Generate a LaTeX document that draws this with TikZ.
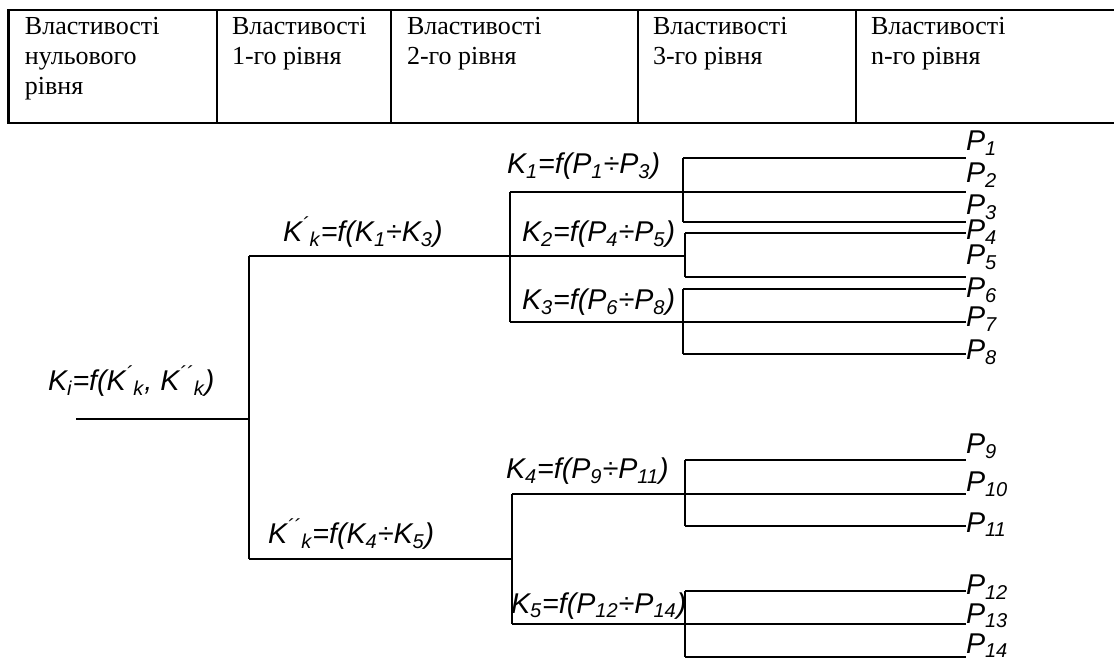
\documentclass[tikz,border=0pt]{standalone}
\usepackage{fontspec}
\setmainfont{Liberation Serif}
\newfontfamily\arialfont{Liberation Sans}
\usetikzlibrary{positioning}

\newcommand{\sub}[1]{\textsubscript{#1}}
\newcommand{\pr}{\textsuperscript{´}}
\newcommand{\ppr}{\textsuperscript{´´}}

\begin{document}
\begin{tikzpicture}[x=0.5pt,y=-0.5pt,
  every node/.style={inner sep=0pt, outer sep=0pt},
  hdr/.style={anchor=north west, align=left, font=\fontsize{13}{15}\selectfont},
  lbl/.style={anchor=base west, font=\arialfont\itshape\fontsize{14.3}{17}\selectfont},
  tbl/.style={line width=1.2pt},
  br/.style={line width=1pt}]

\useasboundingbox (0,0) rectangle (1114,662);

% table of levels
\draw[tbl] (1114,10) -- (8.6,10) -- (8.6,123) -- (1114,123);
\foreach \x in {217,391,638,856}
  \draw[tbl] (\x,10) -- (\x,123);
\node[hdr] (h0) at (25,17)  {Властивості\\нульового\\рівня};
\node[hdr] (h1) at (232,17) {Властивості\\1-го рівня};
\node[hdr] (h2) at (407,17) {Властивості\\2-го рівня};
\node[hdr] (h3) at (653,17) {Властивості\\3-го рівня};
\node[hdr] (h4) at (871,17) {Властивості\\n-го рівня};

% forks
\coordinate (root) at (76,419);
\coordinate (j0) at (249,419);
\coordinate (ja) at (510,256);
\coordinate (jb) at (512,559);
\coordinate (k1) at (683,192);
\coordinate (k2) at (685,256);
\coordinate (k3) at (683,322);
\coordinate (k4) at (685,494);
\coordinate (k5) at (685,624);

% ends of the property lines
\foreach \i/\y in {1/158,2/192,3/222,4/233,5/277,6/289,7/322,
                   8/354,9/460,10/494,11/526,12/591,13/624,14/657}
  \coordinate (e\i) at (966,\y);

\draw[br] (root) -- (j0);
\draw[br] (j0 |- ja) -- (j0 |- jb);
\draw[br] (j0 |- ja) -- (k2);
\draw[br] (j0 |- jb) -- (jb);
\draw[br] (ja |- k1) -- (ja |- k3);
\draw[br] (jb |- k4) -- (jb |- k5);

\draw[br] (k1 |- e1) -- (k1 |- e3);
\draw[br] (k2 |- e4) -- (k2 |- e5);
\draw[br] (k3 |- e6) -- (k3 |- e8);
\draw[br] (k4 |- e9) -- (k4 |- e11);
\draw[br] (k5 |- e12) -- (k5 |- e14);

\foreach \i in {1,3} \draw[br] (k1 |- e\i) -- (e\i);
\foreach \i in {4,5} \draw[br] (k2 |- e\i) -- (e\i);
\foreach \i in {6,8} \draw[br] (k3 |- e\i) -- (e\i);
\foreach \i in {9,11} \draw[br] (k4 |- e\i) -- (e\i);
\foreach \i in {12,14} \draw[br] (k5 |- e\i) -- (e\i);
\draw[br] (ja |- e2) -- (e2);
\draw[br] (ja |- e7) -- (e7);
\draw[br] (jb |- e10) -- (e10);
\draw[br] (jb |- e13) -- (e13);

% labels
\node[lbl] (ki) at (48,391) {K\sub{i}=f(K\pr\sub{k}, K\ppr\sub{k})};
\node[lbl] (ka) at (283,242) {K\pr\sub{k}=f(K\sub{1}÷K\sub{3})};
\node[lbl] (kb) at (268,544) {K\ppr\sub{k}=f(K\sub{4}÷K\sub{5})};
\node[lbl] (n1) at (507,174) {K\sub{1}=f(P\sub{1}÷P\sub{3})};
\node[lbl] (n2) at (522,242) {K\sub{2}=f(P\sub{4}÷P\sub{5})};
\node[lbl] (n3) at (522,310) {K\sub{3}=f(P\sub{6}÷P\sub{8})};
\node[lbl] (n4) at (506,479) {K\sub{4}=f(P\sub{9}÷P\sub{11})};
\node[lbl] (n5) at (511,613) {K\sub{5}=f(P\sub{12}÷P\sub{14})};

\foreach \i/\y in {1/151,2/183,3/215,4/240,5/265,6/298,7/327,
                   8/360,9/454,10/492,11/532,12/595,13/623,14/653}
  \node[lbl] (p\i) at (966,\y) {P\sub{\i}};
\end{tikzpicture}
\end{document}
